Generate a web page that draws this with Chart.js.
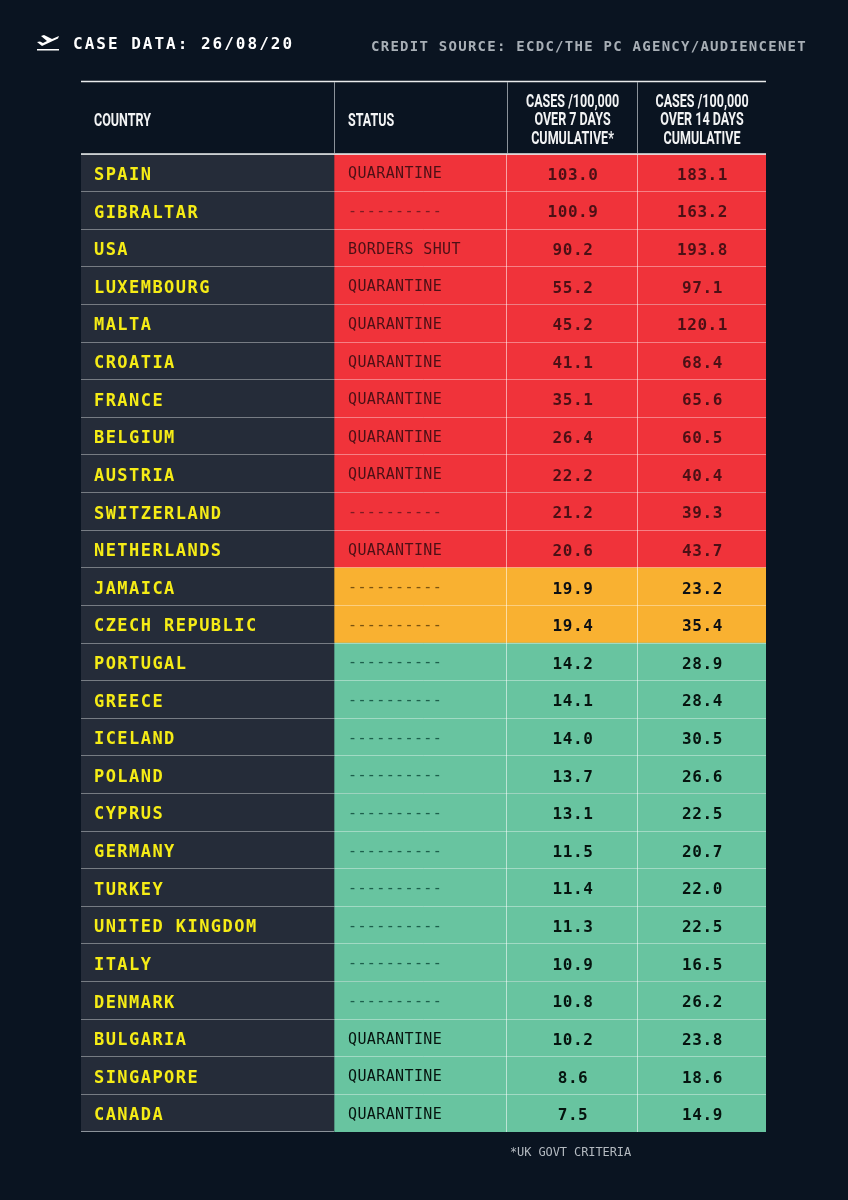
<!DOCTYPE html>
<html>
<head>
<meta charset="utf-8">
<title>Case data</title>
<style>
  html, body { margin: 0; padding: 0; background: #0a1421; }
  canvas { display: block; }
</style>
<script src="https://cdn.jsdelivr.net/npm/chart.js@4"></script>
</head>
<body>
<canvas id="table" width="848" height="1200"></canvas>
<script>
// Data
const countries = ['SPAIN', 'GIBRALTAR', 'USA', 'LUXEMBOURG', 'MALTA', 'CROATIA', 'FRANCE', 'BELGIUM', 'AUSTRIA',
  'SWITZERLAND', 'NETHERLANDS', 'JAMAICA', 'CZECH REPUBLIC', 'PORTUGAL', 'GREECE', 'ICELAND', 'POLAND', 'CYPRUS',
  'GERMANY', 'TURKEY', 'UNITED KINGDOM', 'ITALY', 'DENMARK', 'BULGARIA', 'SINGAPORE', 'CANADA'];
const statuses = ['QUARANTINE', '----------', 'BORDERS SHUT', 'QUARANTINE', 'QUARANTINE', 'QUARANTINE', 'QUARANTINE',
  'QUARANTINE', 'QUARANTINE', '----------', 'QUARANTINE', '----------', '----------', '----------', '----------',
  '----------', '----------', '----------', '----------', '----------', '----------', '----------', '----------',
  'QUARANTINE', 'QUARANTINE', 'QUARANTINE'];
const cases7 = [103.0, 100.9, 90.2, 55.2, 45.2, 41.1, 35.1, 26.4, 22.2, 21.2, 20.6, 19.9, 19.4, 14.2, 14.1, 14.0,
  13.7, 13.1, 11.5, 11.4, 11.3, 10.9, 10.8, 10.2, 8.6, 7.5];
const cases14 = [183.1, 163.2, 193.8, 97.1, 120.1, 68.4, 65.6, 60.5, 40.4, 39.3, 43.7, 23.2, 35.4, 28.9, 28.4, 30.5,
  26.6, 22.5, 20.7, 22.0, 22.5, 16.5, 26.2, 23.8, 18.6, 14.9];
const bands = ['red', 'red', 'red', 'red', 'red', 'red', 'red', 'red', 'red', 'red', 'red', 'amber', 'amber',
  'green', 'green', 'green', 'green', 'green', 'green', 'green', 'green', 'green', 'green', 'green', 'green', 'green'];
const headers = [['COUNTRY'], ['STATUS'], ['CASES /100,000', 'OVER 7 DAYS', 'CUMULATIVE*'],
  ['CASES /100,000', 'OVER 14 DAYS', 'CUMULATIVE']];

// Layout and colours
const columnEdges = [0, 253, 426, 556, 685];
const bandColors = { red: '#f0333a', amber: '#f9b131', green: '#68c4a0' };
const inkColors = { red: 'rgba(58,12,18,.9)', amber: '#0c0f14', green: '#06140f' };
const dashColors = { red: 'rgba(74,17,24,.7)', amber: 'rgba(90,60,10,.8)', green: 'rgba(10,70,55,.8)' };
const mono = '"DejaVu Sans Mono", monospace';

function cellRanges(col) {
  return countries.map(() => [columnEdges[col], columnEdges[col + 1]]);
}

function put(ctx, text, x, y, font, color, align, spacing) {
  ctx.save();
  ctx.font = font;
  ctx.fillStyle = color;
  ctx.textAlign = align || 'left';
  ctx.textBaseline = 'middle';
  ctx.letterSpacing = (spacing || 0) + 'px';
  ctx.fillText(text, x, y);
  ctx.restore();
}

// Condensed header type, no narrow font installed so squeeze Roboto
function putNarrow(ctx, text, x, y, align) {
  ctx.save();
  ctx.translate(x, y);
  ctx.scale(0.66, 1);
  ctx.font = 'bold 19px Roboto';
  ctx.fillStyle = '#f2f3f4';
  ctx.textAlign = align;
  ctx.textBaseline = 'middle';
  ctx.fillText(text, 0, 0);
  ctx.restore();
}

function drawPlane(ctx) {
  ctx.save();
  ctx.fillStyle = '#ffffff';
  ctx.fillRect(37, 49, 22, 1.5);
  ctx.beginPath();
  ctx.moveTo(37, 42);
  ctx.lineTo(40, 41.5);
  ctx.lineTo(43, 43);
  ctx.lineTo(47, 41);
  ctx.lineTo(41, 36);
  ctx.lineTo(44, 35);
  ctx.lineTo(52, 39);
  ctx.lineTo(59, 36);
  ctx.lineTo(58, 38.5);
  ctx.lineTo(42, 46);
  ctx.closePath();
  ctx.fill();
  ctx.restore();
}

const tablePlugin = {
  id: 'tablePlugin',
  beforeDraw(chart) {
    const ctx = chart.ctx;
    ctx.fillStyle = '#0a1421';
    ctx.fillRect(0, 0, chart.width, chart.height);
  },
  afterDraw(chart) {
    const ctx = chart.ctx;
    const x = chart.scales.x, y = chart.scales.y;

    // title lines
    drawPlane(ctx);
    put(ctx, 'CASE DATA: 26/08/20', 73, 45, 'bold 16px ' + mono, '#ffffff', 'left', 2);
    put(ctx, 'CREDIT SOURCE: ECDC/THE PC AGENCY/AUDIENCENET', 371, 47, 'bold 14px ' + mono, '#a8afb6', 'left', 1.26);

    // header rules
    const left = x.getPixelForValue(columnEdges[0]), right = x.getPixelForValue(columnEdges[4]);
    ctx.strokeStyle = '#e9ebec';
    ctx.lineWidth = 1.5;
    ctx.beginPath();
    ctx.moveTo(left, 81.5); ctx.lineTo(right, 81.5);
    ctx.moveTo(left, 154); ctx.lineTo(right, 154);
    ctx.stroke();
    ctx.strokeStyle = '#8b929a';
    ctx.lineWidth = 1;
    ctx.beginPath();
    [1, 2, 3].forEach(i => {
      const px = Math.round(x.getPixelForValue(columnEdges[i])) + 0.5;
      ctx.moveTo(px, 82); ctx.lineTo(px, 153);
    });
    // closing rule runs under the country column only
    ctx.moveTo(left, y.bottom - 0.5); ctx.lineTo(x.getPixelForValue(columnEdges[1]), y.bottom - 0.5);
    ctx.stroke();

    // header labels
    putNarrow(ctx, headers[0][0], x.getPixelForValue(columnEdges[0]) + 13, 121, 'left');
    putNarrow(ctx, headers[1][0], x.getPixelForValue(columnEdges[1]) + 14, 121, 'left');
    [2, 3].forEach(c => {
      const mid = x.getPixelForValue((columnEdges[c] + columnEdges[c + 1]) / 2) + 0.5;
      headers[c].forEach((line, i) => putNarrow(ctx, line, mid, 102 + i * 18.5, 'center'));
    });

    // cell texts
    const mid7 = x.getPixelForValue((columnEdges[2] + columnEdges[3]) / 2) + 1;
    const mid14 = x.getPixelForValue((columnEdges[3] + columnEdges[4]) / 2) + 1;
    countries.forEach((name, i) => {
      const py = y.getPixelForValue(i) + 2.8;
      const band = bands[i];
      const isDash = statuses[i][0] === '-';
      put(ctx, name, x.getPixelForValue(columnEdges[0]) + 13, py, 'bold 17px ' + mono, '#f6ec16', 'left', 1.45);
      put(ctx, statuses[i], x.getPixelForValue(columnEdges[1]) + 14, py - 1, '15px ' + mono,
        isDash ? dashColors[band] : inkColors[band], 'left', 0.38);
      put(ctx, cases7[i].toFixed(1), mid7, py, 'bold 16px ' + mono, inkColors[band], 'center', 0.6);
      put(ctx, cases14[i].toFixed(1), mid14, py, 'bold 16px ' + mono, inkColors[band], 'center', 0.6);
    });

    put(ctx, '*UK GOVT CRITERIA', 510, 1153, '12px ' + mono, '#b4bac0', 'left', -0.1);
  }
};

new Chart(document.getElementById('table').getContext('2d'), {
  type: 'bar',
  plugins: [tablePlugin],
  data: {
    labels: countries,
    datasets: [
      { label: 'COUNTRY', data: cellRanges(0), backgroundColor: '#252c39' },
      { label: 'STATUS', data: cellRanges(1), backgroundColor: bands.map(b => bandColors[b]) },
      { label: 'CASES 7 DAYS', data: cellRanges(2), backgroundColor: bands.map(b => bandColors[b]) },
      { label: 'CASES 14 DAYS', data: cellRanges(3), backgroundColor: bands.map(b => bandColors[b]) }
    ]
  },
  options: {
    indexAxis: 'y',
    responsive: false,
    animation: false,
    events: [],
    layout: { padding: { top: 154, bottom: 68, left: 81, right: 82 } },
    datasets: { bar: { barPercentage: 1, categoryPercentage: 1, grouped: false } },
    plugins: { legend: { display: false }, tooltip: { enabled: false }, title: { display: false } },
    scales: {
      x: {
        type: 'linear',
        min: columnEdges[0],
        max: columnEdges[4],
        afterBuildTicks(axis) { axis.ticks = [columnEdges[2], columnEdges[3]].map(v => ({ value: v })); },
        ticks: { display: false },
        border: { display: false },
        grid: { z: 1, color: 'rgba(255,255,255,.55)', lineWidth: 1, drawTicks: false }
      },
      y: {
        type: 'category',
        ticks: { display: false, autoSkip: false },
        border: { display: false },
        grid: {
          z: 1,
          offset: true,
          // the closing line has no tick index
          color: c => (c.index === undefined ? 'transparent' : 'rgba(255,255,255,.38)'),
          lineWidth: 1,
          drawTicks: false
        }
      }
    }
  }
});
</script>
</body>
</html>
